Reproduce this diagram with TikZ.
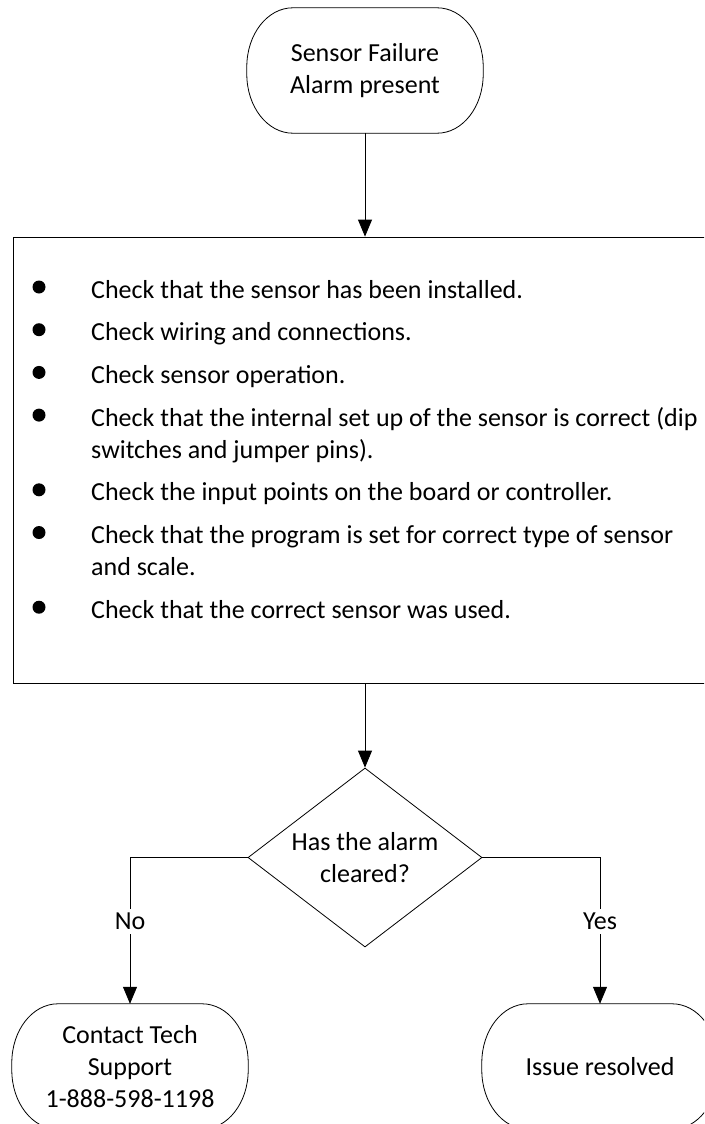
\documentclass[tikz,border=0pt]{standalone}
\usepackage{fontspec}
\setmainfont{Carlito}
\usetikzlibrary{arrows.meta,shapes.geometric}

% Outline of a terminator: flat top and bottom, elliptic ends
\newcommand\terminatorline[1]{%
  \draw[outline] ([xshift=46pt]#1.north west) -- ([xshift=-46pt]#1.north east)
    arc[start angle=90,end angle=0,x radius=46pt,y radius=59pt]
    -- ([yshift=59pt]#1.south east)
    arc[start angle=0,end angle=-90,x radius=46pt,y radius=59pt]
    -- ([xshift=46pt]#1.south west)
    arc[start angle=270,end angle=180,x radius=46pt,y radius=59pt]
    -- ([yshift=-59pt]#1.north west)
    arc[start angle=180,end angle=90,x radius=46pt,y radius=59pt] -- cycle;}

\begin{document}
\begin{tikzpicture}[x=1pt,y=-1pt,
  every node/.style={font=\fontsize{26}{32}\selectfont, inner sep=0pt},
  outline/.style={draw=black, line width=0.8pt},
  flow/.style={outline, -{Triangle[length=17pt,width=14pt]}},
  terminal/.style={minimum width=236pt, minimum height=125pt, align=center},
  decision/.style={outline, diamond, shape aspect=1.3, minimum width=234pt,
    minimum height=179pt, align=center},
  checkbox/.style={outline, rectangle, minimum width=704pt, minimum height=446pt},
  checkline/.style={anchor=base west},
  answer/.style={fill=white, inner xsep=2pt, inner ysep=4pt}]

\useasboundingbox (0,0) rectangle (704,1124);
\clip (0,0) rectangle (704,1124);

% start
\node[terminal] (start) at (365,70.5) {Sensor Failure\\Alarm present};
\terminatorline{start}

% checklist box
\node[checkbox] (checks) at (365,460) {};
\foreach \by in {298,340.7,383.4,426.1,500.8,543.5,618.2}
  \fill (39,\by-11) circle (6.5);
\node[checkline] (c1)  at (91,298)   {Check that the sensor has been installed.};
\node[checkline] (c2)  at (91,340.7) {Check wiring and connections.};
\node[checkline] (c3)  at (91,383.4) {Check sensor operation.};
\node[checkline] (c4)  at (91,426.1) {Check that the internal set up of the sensor is correct (dip};
\node[checkline] (c4b) at (91,458.1) {switches and jumper pins).};
\node[checkline] (c5)  at (91,500.8) {Check the input points on the board or controller.};
\node[checkline] (c6)  at (91,543.5) {Check that the program is set for correct type of sensor};
\node[checkline] (c6b) at (91,575.5) {and scale.};
\node[checkline] (c7)  at (91,618.2) {Check that the correct sensor was used.};

% decision
\node[decision] (q) at (365,857.5) {Has the alarm\\cleared?};

% outcomes
\node[terminal] (support) at (130,1066.5) {Contact Tech\\Support\\1-888-598-1198};
\terminatorline{support}
\node[terminal] (done) at (600,1066.5) {Issue resolved};
\terminatorline{done}

% connectors
\draw[flow] (start.south) -- (checks.north);
\draw[flow] (checks.south) -- (q.north);
\draw[flow] (q.west) -| node[answer, pos=0.719] {No} (support.north);
\draw[flow] (q.east) -| node[answer, pos=0.719] {Yes} (done.north);
\end{tikzpicture}
\end{document}
